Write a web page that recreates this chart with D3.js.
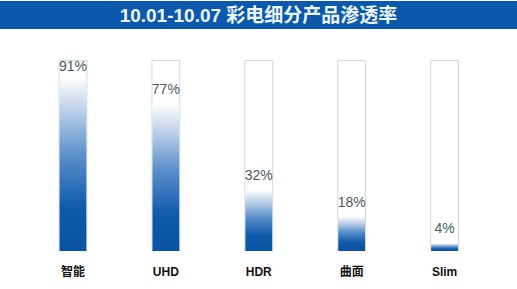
<!DOCTYPE html>
<meta charset="utf-8">
<script src="https://d3js.org/d3.v7.min.js"></script>
<style>
  body { margin: 0; background: #fff; }
  svg { display: block; }
</style>
<div id="chart"></div>
<script>
// chart data
var title = "10.01-10.07 彩电细分产品渗透率";
var categories = ["智能", "UHD", "HDR", "曲面", "Slim"];
var rates = [91, 77, 32, 18, 4];

var width = 517, height = 289;

var svg = d3.select("#chart")
  .append("svg")
    .attr("width", width)
    .attr("height", height);

// title band
svg.append("rect")
  .attr("x", 0).attr("y", 1)
  .attr("width", width).attr("height", 28)
  .attr("fill", "#0b59ac");

svg.append("text")
  .attr("x", width / 2)
  .attr("y", 22)
  .attr("text-anchor", "middle")
  .attr("font-family", "'Liberation Sans', 'Noto Sans CJK SC', sans-serif")
  .attr("font-weight", "bold")
  .attr("font-size", "19px")
  .attr("fill", "#eef6ff")
  .text(title);

// scales
var x = d3.scaleBand()
  .domain(categories)
  .range([26.5, 491])
  .paddingInner(0.69)
  .paddingOuter(0.345);

var y = d3.scaleLinear()
  .domain([0, 100])
  .range([251, 60]);

// gradient, dark at bottom fading to white at top
var defs = svg.append("defs");
var grad = defs.append("linearGradient")
  .attr("id", "fade")
  .attr("x1", 0).attr("y1", 1)
  .attr("x2", 0).attr("y2", 0);
grad.append("stop").attr("offset", "0%").attr("stop-color", "#0852a4");
grad.append("stop").attr("offset", "25%").attr("stop-color", "#0f5aab");
grad.append("stop").attr("offset", "55%").attr("stop-color", "#5b8fca");
grad.append("stop").attr("offset", "80%").attr("stop-color", "#b9cfe8");
grad.append("stop").attr("offset", "100%").attr("stop-color", "#ffffff");

var g = svg.selectAll(".bar")
  .data(categories)
  .enter()
  .append("g")
    .attr("class", "bar");

// outline box (full 100%)
g.append("rect")
  .attr("x", function(d) { return x(d) + 0.5; })
  .attr("y", y(100) + 0.5)
  .attr("width", x.bandwidth() - 1)
  .attr("height", y(0) - y(100) - 1)
  .attr("fill", "#fff")
  .attr("stroke", "#d4d8dd")
  .attr("stroke-width", 1);

// filled part
g.append("rect")
  .attr("x", function(d) { return x(d) + 1; })
  .attr("y", function(d, i) { return y(rates[i]); })
  .attr("width", x.bandwidth() - 2)
  .attr("height", function(d, i) { return y(0) - y(rates[i]); })
  .attr("fill", "url(#fade)");

// value labels
g.append("text")
  .attr("x", function(d) { return x(d) + x.bandwidth() / 2; })
  .attr("y", function(d, i) { return Math.max(y(rates[i]) - 10, 71); })
  .attr("text-anchor", "middle")
  .attr("font-family", "'Liberation Sans', sans-serif")
  .attr("font-size", "14px")
  .attr("fill", "#4d5a60")
  .text(function(d, i) { return rates[i] + "%"; });

// category labels
g.append("text")
  .attr("x", function(d) { return x(d) + x.bandwidth() / 2; })
  .attr("y", 276)
  .attr("text-anchor", "middle")
  .attr("font-family", "'Liberation Sans', 'Noto Sans CJK SC', sans-serif")
  .attr("font-weight", "bold")
  .attr("font-size", "12px")
  .attr("fill", "#111")
  .text(function(d) { return d; });
</script>
